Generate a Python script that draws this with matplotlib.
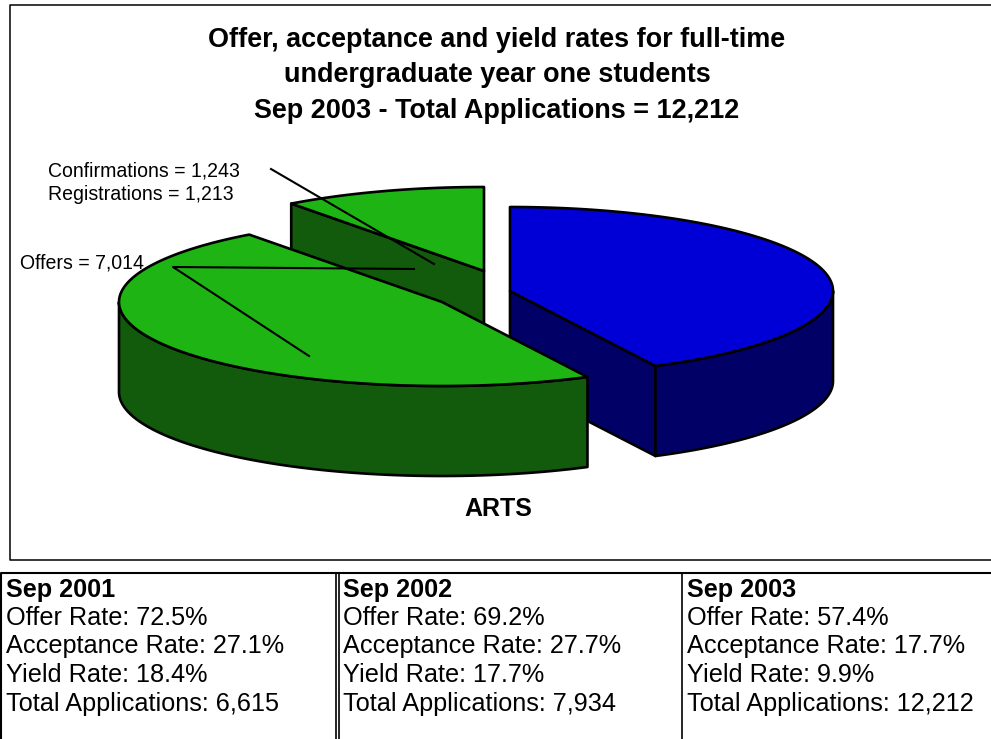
#!/usr/bin/env python

import numpy as np
from matplotlib import pyplot as plt
from matplotlib.patches import Polygon

plt.rcParams['font.family'] = ['Liberation Sans', 'DejaVu Sans']

title = ('Offer, acceptance and yield rates for full-time\n'
         'undergraduate year one students\n'
         'Sep 2003 - Total Applications = 12,212')

# Slices of the pie, clockwise from 12 o'clock
slice_names = ['Rejected', 'Offers only', 'Confirmations']
slice_values = [5198, 5771, 1243]

# Per slice styling: where the apex sits on the page and its colours
apex_x = [510, 442, 484]
apex_y = [291, 302, 271]
top_colors = ['#0000d6', '#1eb414', '#1eb414']
side_colors = ['#000066', '#125a0c', '#125a0c']

radius_x = 323
radius_y = 84
depth = 90

table_heads = ['Sep 2001', 'Sep 2002', 'Sep 2003']
offer_rates = ['72.5%', '69.2%', '57.4%']
acceptance_rates = ['27.1%', '27.7%', '17.7%']
yield_rates = ['18.4%', '17.7%', '9.9%']
total_apps = ['6,615', '7,934', '12,212']
table_x = [6, 343, 687]


def arc(cx, cy, a0, a1):
    t = np.radians(np.linspace(a0, a1, 200))
    return np.column_stack([cx + radius_x * np.sin(t), cy - radius_y * np.cos(t)])


def shape(ax, pts, color):
    ax.add_patch(Polygon(pts, closed=True, facecolor=color, edgecolor='black',
                         linewidth=1.9, joinstyle='round'))


fig = plt.figure(figsize=(9.91, 7.39), dpi=100)
ax = fig.add_axes([0, 0, 1, 1])
ax.set_xlim(0, 991)
ax.set_ylim(739, 0)
ax.axis('off')

# Chart frame, open to the right
ax.plot([991, 10, 10, 991], [5, 5, 560, 560], color='black', lw=1.1)

ax.text(497, 75.5, title, ha='center', va='center', fontsize=19.45, fontweight='bold',
        linespacing=1.47)

# Angles from the values
angles = np.concatenate([[0], np.cumsum(slice_values) / np.sum(slice_values) * 360])

# Back to front: small slice, blue slice, big green slice
for i in [2, 0, 1]:
    cx, cy = apex_x[i], apex_y[i]
    a0, a1 = angles[i], angles[i + 1]
    down = np.array([0, depth])

    # radial wall facing the viewer
    if i == 0:
        end = arc(cx, cy, a1, a1)[0]
        shape(ax, [(cx, cy), end, end + down, (cx, cy + depth)], side_colors[i])
    if i == 2:
        end = arc(cx, cy, a0, a0)[0]
        shape(ax, [(cx, cy), end, end + down, (cx, cy + depth)], side_colors[i])

    # rim, only the part on the near half of the ellipse
    r0, r1 = max(a0, 90), min(a1, 270)
    if r1 > r0:
        rim = arc(cx, cy, r0, r1)
        shape(ax, np.vstack([rim, (rim + down)[::-1]]), side_colors[i])

    # top face
    shape(ax, np.vstack([[(cx, cy)], arc(cx, cy, a0, a1)]), top_colors[i])

# Leader lines
ax.plot([271, 434], [169, 264], color='black', lw=1.5)
ax.plot([414, 173, 309], [269, 267, 356], color='black', lw=1.5)

ax.text(48, 171, 'Confirmations = 1,243', fontsize=14.05, va='center')
ax.text(48, 194, 'Registrations = 1,213', fontsize=14.05, va='center')
ax.text(20, 263, 'Offers = 7,014', fontsize=14.05, va='center')
ax.text(498, 509, 'ARTS', fontsize=18, fontweight='bold', ha='center', va='center')

# Table underneath, no bottom border
ax.plot([991, 0.5, 0.5], [573, 573, 739], color='black', lw=1.5)
for x in [336, 339, 681.5]:
    ax.plot([x, x], [573, 739], color='black', lw=1.2)

for i, x in enumerate(table_x):
    ax.text(x, 597, table_heads[i], fontsize=18.2, fontweight='bold', va='baseline')
    ax.text(x, 625, 'Offer Rate: ' + offer_rates[i], fontsize=18.2, va='baseline')
    ax.text(x, 653, 'Acceptance Rate: ' + acceptance_rates[i], fontsize=18.2, va='baseline')
    ax.text(x, 682, 'Yield Rate: ' + yield_rates[i], fontsize=18.2, va='baseline')
    ax.text(x, 711, 'Total Applications: ' + total_apps[i], fontsize=18.2, va='baseline')

fig.savefig('out.png', dpi=100)
plt.close(fig)
